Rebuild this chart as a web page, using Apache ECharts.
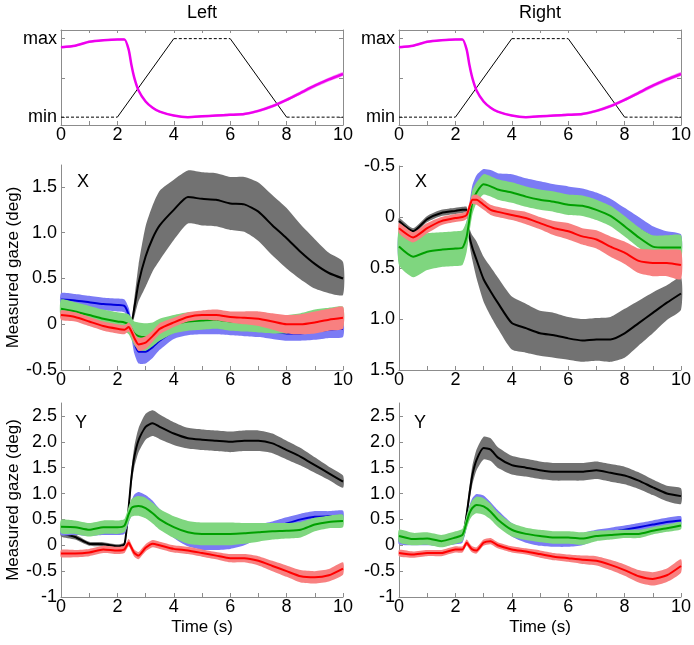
<!DOCTYPE html>
<html><head><meta charset="utf-8">
<script src="https://cdn.jsdelivr.net/npm/echarts@6/dist/echarts.min.js"></script>
<style>html,body{margin:0;padding:0;background:#fff}#c{width:694px;height:645px}</style>
</head><body><div id="c"></div>
<script>
// time samples (s)
const T = [0,0.5,1,1.5,2,2.25,2.4,2.5,2.6,2.75,3,3.25,3.5,4,4.5,5,5.5,6,6.5,7,7.5,8,8.5,9,9.5,10];

// top panels: stimulus trapezoid and magenta response
const stimT = [0,2,4,6,8,10];
const stimV = [0,0,1,1,0,0];
const magMean = [0.89,0.91,0.96,0.98,0.99,0.99,0.86,0.66,0.5,0.34,0.2,0.12,0.07,0.02,0.0,0.01,0.02,0.03,0.04,0.08,0.14,0.22,0.31,0.4,0.48,0.55];
const magSd   = [0.012,0.012,0.012,0.012,0.012,0.012,0.012,0.012,0.012,0.012,0.012,0.012,0.012,0.012,0.012,0.014,0.015,0.016,0.017,0.018,0.02,0.021,0.022,0.024,0.025,0.026];

// Left, X
const lxBlack   = [0.12,0.1,0.08,0.07,0.06,0.06,0.05,0.03,0.18,0.45,0.74,0.94,1.08,1.25,1.39,1.37,1.36,1.32,1.31,1.23,1.08,0.94,0.79,0.66,0.56,0.5];
const lxBlackSd = [0.05,0.05,0.05,0.05,0.05,0.05,0.05,0.03,0.1,0.2,0.33,0.36,0.38,0.33,0.29,0.29,0.29,0.29,0.3,0.32,0.33,0.33,0.3,0.27,0.22,0.18];
const lxBlue    = [0.27,0.26,0.24,0.22,0.21,0.2,0.1,-0.05,-0.2,-0.3,-0.3,-0.25,-0.18,-0.08,-0.04,-0.03,-0.03,-0.04,-0.05,-0.06,-0.08,-0.1,-0.1,-0.08,-0.06,-0.05];
const lxBlueSd  = [0.07,0.07,0.07,0.07,0.07,0.07,0.08,0.1,0.12,0.13,0.13,0.12,0.1,0.08,0.08,0.08,0.08,0.08,0.08,0.08,0.08,0.08,0.08,0.09,0.09,0.09];
const lxGreen   = [0.17,0.14,0.1,0.06,0.03,0.02,0.0,-0.05,-0.1,-0.13,-0.14,-0.11,-0.06,0.0,0.03,0.04,0.05,0.03,0.02,0.01,0.0,0.0,0.02,0.05,0.07,0.08];
const lxGreenSd = [0.1,0.1,0.1,0.1,0.1,0.1,0.11,0.12,0.13,0.15,0.15,0.13,0.12,0.1,0.1,0.1,0.1,0.1,0.1,0.1,0.1,0.1,0.1,0.11,0.11,0.11];
const lxRed     = [0.1,0.08,0.03,-0.02,-0.05,-0.06,-0.03,-0.08,-0.15,-0.22,-0.2,-0.13,-0.05,0.02,0.08,0.1,0.1,0.08,0.07,0.06,0.03,0.0,0.0,0.02,0.05,0.07];
const lxRedSd   = [0.05,0.05,0.05,0.05,0.05,0.05,0.05,0.06,0.06,0.07,0.07,0.06,0.06,0.05,0.05,0.05,0.06,0.06,0.07,0.08,0.09,0.1,0.11,0.12,0.12,0.12];

// Right, X
const rxBlack   = [0.04,0.14,0.02,-0.04,-0.06,-0.07,-0.07,0.19,0.3,0.42,0.61,0.73,0.84,1.04,1.09,1.14,1.16,1.19,1.21,1.2,1.2,1.14,1.04,0.94,0.84,0.75];
const rxBlackSd = [0.03,0.03,0.03,0.03,0.03,0.03,0.03,0.08,0.12,0.18,0.22,0.24,0.25,0.26,0.24,0.22,0.22,0.21,0.21,0.21,0.22,0.24,0.22,0.2,0.17,0.16];
const rxBlue    = [0.29,0.39,0.34,0.32,0.31,0.3,0.17,-0.02,-0.2,-0.3,-0.36,-0.35,-0.32,-0.3,-0.26,-0.23,-0.2,-0.18,-0.16,-0.12,-0.06,0.03,0.12,0.2,0.24,0.27];
const rxBlueSd  = [0.15,0.15,0.15,0.15,0.15,0.15,0.13,0.12,0.11,0.11,0.11,0.11,0.11,0.12,0.12,0.12,0.12,0.12,0.12,0.12,0.12,0.12,0.12,0.11,0.1,0.1];
const rxGreen   = [0.29,0.39,0.34,0.32,0.31,0.3,0.19,0.02,-0.14,-0.24,-0.32,-0.3,-0.27,-0.24,-0.2,-0.17,-0.15,-0.12,-0.11,-0.07,-0.01,0.09,0.2,0.29,0.3,0.3];
const rxGreenSd = [0.18,0.2,0.18,0.17,0.17,0.17,0.15,0.13,0.12,0.1,0.1,0.1,0.1,0.1,0.1,0.1,0.1,0.1,0.1,0.1,0.1,0.1,0.1,0.11,0.12,0.12];
const rxRed     = [0.11,0.2,0.11,0.04,0.01,0.0,-0.02,-0.1,-0.17,-0.17,-0.12,-0.07,-0.05,-0.02,0.01,0.06,0.11,0.14,0.19,0.22,0.29,0.35,0.43,0.45,0.45,0.47];
const rxRedSd   = [0.05,0.05,0.05,0.04,0.04,0.04,0.04,0.04,0.04,0.05,0.05,0.05,0.05,0.05,0.06,0.06,0.07,0.08,0.08,0.09,0.1,0.11,0.12,0.13,0.13,0.14];

// Left, Y
const lyBlack   = [0.23,0.16,0.03,0.02,-0.02,0.02,0.74,1.32,1.71,2.03,2.29,2.36,2.29,2.16,2.07,2.04,2.02,2.0,2.02,2.02,1.97,1.84,1.71,1.55,1.39,1.23];
const lyBlackSd = [0.06,0.05,0.04,0.04,0.04,0.04,0.1,0.15,0.2,0.23,0.25,0.25,0.24,0.22,0.2,0.2,0.2,0.2,0.2,0.2,0.19,0.18,0.17,0.15,0.13,0.12];
const lyBlue    = [0.3,0.3,0.28,0.3,0.3,0.32,0.55,0.72,0.82,0.86,0.8,0.7,0.55,0.3,0.15,0.08,0.08,0.1,0.16,0.26,0.33,0.42,0.5,0.55,0.56,0.57];
const lyBlueSd  = [0.1,0.1,0.1,0.1,0.1,0.1,0.12,0.14,0.16,0.17,0.17,0.16,0.15,0.16,0.17,0.17,0.17,0.17,0.16,0.14,0.13,0.12,0.11,0.11,0.1,0.1];
const lyGreen   = [0.36,0.35,0.3,0.35,0.35,0.38,0.6,0.72,0.75,0.76,0.72,0.62,0.5,0.35,0.25,0.22,0.22,0.22,0.23,0.25,0.27,0.28,0.3,0.4,0.45,0.47];
const lyGreenSd = [0.13,0.13,0.13,0.13,0.13,0.13,0.15,0.17,0.18,0.19,0.2,0.2,0.2,0.21,0.22,0.22,0.22,0.22,0.2,0.18,0.16,0.15,0.15,0.13,0.12,0.12];
const lyRed     = [-0.16,-0.16,-0.14,-0.08,-0.1,-0.08,0.05,-0.05,-0.15,-0.2,-0.05,0.03,0.0,-0.07,-0.1,-0.15,-0.2,-0.25,-0.25,-0.3,-0.4,-0.5,-0.6,-0.62,-0.58,-0.45];
const lyRedSd   = [0.07,0.07,0.07,0.07,0.07,0.07,0.07,0.07,0.07,0.07,0.07,0.07,0.07,0.07,0.07,0.07,0.07,0.08,0.08,0.09,0.1,0.11,0.12,0.12,0.12,0.12];

// Right, Y
const ryBlack   = [0.12,0.1,0.1,0.08,0.12,0.15,0.6,1.0,1.35,1.65,1.88,1.85,1.7,1.55,1.5,1.45,1.42,1.42,1.42,1.45,1.4,1.35,1.25,1.12,1.0,0.95];
const ryBlackSd = [0.05,0.05,0.05,0.05,0.05,0.05,0.1,0.14,0.18,0.2,0.22,0.22,0.2,0.18,0.17,0.17,0.17,0.17,0.17,0.17,0.17,0.17,0.16,0.15,0.15,0.15];
const ryBlue    = [0.12,0.1,0.1,0.08,0.12,0.15,0.45,0.65,0.78,0.85,0.82,0.7,0.55,0.3,0.18,0.12,0.1,0.1,0.12,0.2,0.25,0.3,0.35,0.4,0.45,0.48];
const ryBlueSd  = [0.1,0.1,0.1,0.1,0.1,0.1,0.11,0.12,0.13,0.14,0.14,0.13,0.13,0.13,0.13,0.13,0.13,0.13,0.12,0.1,0.09,0.08,0.08,0.08,0.08,0.08];
const ryGreen   = [0.18,0.12,0.13,0.08,0.15,0.2,0.45,0.62,0.72,0.78,0.75,0.65,0.5,0.3,0.22,0.18,0.15,0.15,0.13,0.18,0.2,0.22,0.22,0.28,0.33,0.38];
const ryGreenSd = [0.12,0.12,0.12,0.12,0.12,0.12,0.13,0.14,0.15,0.16,0.16,0.15,0.14,0.13,0.12,0.12,0.12,0.12,0.12,0.1,0.09,0.08,0.08,0.07,0.07,0.07];
const ryRed     = [-0.15,-0.18,-0.15,-0.15,-0.08,-0.08,0.05,-0.02,-0.08,-0.1,0.05,0.08,0.0,-0.08,-0.12,-0.17,-0.22,-0.25,-0.28,-0.3,-0.38,-0.48,-0.6,-0.65,-0.58,-0.4];
const ryRedSd   = [0.06,0.06,0.06,0.06,0.06,0.06,0.06,0.06,0.06,0.06,0.06,0.06,0.06,0.06,0.06,0.07,0.07,0.07,0.08,0.09,0.1,0.11,0.12,0.13,0.13,0.13];

// tick labels
const topYTicks = [0,0.5,1], topYLabelVals = [0,1], topYLabels = ['min','max'];
const lxTickVals = [-0.5,0,0.5,1,1.5], lxTickLabels = ['-0.5','0','0.5','1.0','1.5'];
const rxTickVals = [-0.5,0,0.5,1,1.5], rxTickLabels = ['-0.5','0','0.5','1.0','1.5'];
const yTickVals = [-1,-0.5,0,0.5,1,1.5,2,2.5], yTickLabels = ['-1','-0.5','0','0.5','1.0','1.5','2.0','2.5'];

const FONT = '"Liberation Sans", Arial, sans-serif';
const AX = '#8c8c8c';
const C = {
  black:'#000000', gray:'#727272',
  blue:'#0000dd', blueBand:'#7b7bf5',
  green:'#00a000', greenBand:'#7fd67f',
  red:'#ff0000', redBand:'#f88080',
  mag:'#ee00ee', magBand:'#f6a0f6'
};

const grids = [
  {left:61, top:30, width:282, height:95},
  {left:399, top:30, width:283, height:95},
  {left:61, top:165, width:282, height:205},
  {left:399, top:166, width:283, height:204},
  {left:61, top:403, width:282, height:194},
  {left:399, top:403, width:283, height:194}
];

function labelMap(vals, labs) { return v => { const i = vals.findIndex(x => Math.abs(x - v) < 1e-9); return i >= 0 ? labs[i] : ''; }; }

const xAxes = [], yAxes = [];
for (let g = 0; g < 6; g++) {
  xAxes.push({
    type:'value', gridIndex:g, min:0, max:10, interval:1,
    axisLine:{show:true, onZero:false, lineStyle:{color:AX}},
    axisTick:{show:true, inside:true, length:4, lineStyle:{color:AX}},
    splitLine:{show:false},
    axisLabel:{color:'#000', fontSize:18, fontFamily:FONT, margin: g < 2 ? 1 : 1,
      formatter: v => (v % 2 === 0 ? String(v) : '')},
    name: g >= 4 ? 'Time (s)' : '', nameLocation:'middle', nameGap:22,
    nameTextStyle:{color:'#000', fontSize:17, fontFamily:FONT}
  });
}
// top box edges for top panels
for (let g = 0; g < 2; g++) {
  xAxes.push({type:'value', gridIndex:g, position:'top', min:0, max:10, interval:1,
    axisLine:{show:true, onZero:false, lineStyle:{color:AX}},
    axisTick:{show:true, inside:true, length:3, lineStyle:{color:AX}},
    axisLabel:{show:false}, splitLine:{show:false}});
}
const yCfg = [
  {min:-0.1, max:1.11, ticks:topYTicks, labVals:topYLabelVals, labs:topYLabels, inverse:false},
  {min:-0.1, max:1.11, ticks:topYTicks, labVals:topYLabelVals, labs:topYLabels, inverse:false},
  {min:-0.5, max:1.74, ticks:lxTickVals, labVals:lxTickVals, labs:lxTickLabels, inverse:false},
  {min:-0.5, max:1.5, ticks:rxTickVals, labVals:rxTickVals, labs:rxTickLabels, inverse:true},
  {min:-1, max:2.75, ticks:yTickVals, labVals:yTickVals, labs:yTickLabels, inverse:false},
  {min:-1, max:2.75, ticks:yTickVals, labVals:yTickVals, labs:yTickLabels, inverse:false}
];
yCfg.forEach((c, g) => {
  yAxes.push({
    type:'value', gridIndex:g, min:c.min, max:c.max, inverse:c.inverse,
    axisLine:{show:true, onZero:false, lineStyle:{color:AX}},
    axisTick:{show:true, inside:true, length:4, customValues:c.ticks, lineStyle:{color:AX}},
    splitLine:{show:false},
    axisLabel:{color:'#000', fontSize:18, fontFamily:FONT, margin:4, customValues:c.labVals,
      formatter: labelMap(c.labVals, c.labs)},
    name: (g === 2 || g === 4) ? 'Measured gaze (deg)' : '', nameLocation:'middle', nameGap:39,
    nameTextStyle:{color:'#000', fontSize:17, fontFamily:FONT}
  });
});
for (let g = 0; g < 2; g++) {
  yAxes.push({type:'value', gridIndex:g, position:'right', min:-0.1, max:1.11,
    axisLine:{show:true, onZero:false, lineStyle:{color:AX}},
    axisTick:{show:true, inside:true, length:4, customValues:topYTicks, lineStyle:{color:AX}},
    axisLabel:{show:false}, splitLine:{show:false}});
}

let zc = 1;
function band(g, mean, sd, color) {
  return {type:'custom', xAxisIndex:g, yAxisIndex:g, coordinateSystem:'cartesian2d', silent:true, z: zc++,
    data:[[T[0], mean[0]]],
    renderItem: (p, api) => {
      const pts = [];
      for (let k = 0; k < T.length; k++) pts.push(api.coord([T[k], mean[k] + sd[k]]));
      for (let k = T.length - 1; k >= 0; k--) pts.push(api.coord([T[k], mean[k] - sd[k]]));
      return {type:'polygon', shape:{points:pts, smooth:0.2}, style:{fill:color}};
    }};
}
function line(g, mean, color, w) {
  return {type:'line', xAxisIndex:g, yAxisIndex:g, data:T.map((t, k) => [t, mean[k]]),
    symbol:'none', silent:true, smooth:0.2, z: zc++, lineStyle:{color:color, width:w}};
}

const series = [];
// top panels
for (let g = 0; g < 2; g++) {
  for (let i = 0; i < stimT.length - 1; i++) {
    const flat = stimV[i] === stimV[i + 1];
    series.push({type:'line', xAxisIndex:g, yAxisIndex:g, symbol:'none', silent:true, z: zc++,
      data:[[stimT[i], stimV[i]], [stimT[i + 1], stimV[i + 1]]],
      lineStyle:{color:'#000', width:1, type: flat ? [3, 2] : 'solid'}});
  }
  series.push(band(g, magMean, magSd, C.magBand));
  series.push(line(g, magMean, C.mag, 2.5));
}
const panels = [
  [2, lxBlack, lxBlackSd, lxBlue, lxBlueSd, lxGreen, lxGreenSd, lxRed, lxRedSd],
  [3, rxBlack, rxBlackSd, rxBlue, rxBlueSd, rxGreen, rxGreenSd, rxRed, rxRedSd],
  [4, lyBlack, lyBlackSd, lyBlue, lyBlueSd, lyGreen, lyGreenSd, lyRed, lyRedSd],
  [5, ryBlack, ryBlackSd, ryBlue, ryBlueSd, ryGreen, ryGreenSd, ryRed, ryRedSd]
];
panels.forEach(p => {
  const g = p[0];
  series.push(band(g, p[1], p[2], C.gray)); series.push(line(g, p[1], C.black, 2));
  series.push(band(g, p[3], p[4], C.blueBand)); series.push(line(g, p[3], C.blue, 2));
  series.push(band(g, p[5], p[6], C.greenBand)); series.push(line(g, p[5], C.green, 2));
  series.push(band(g, p[7], p[8], C.redBand)); series.push(line(g, p[7], C.red, 2));
});

const txt = (s, x, y, align) => ({type:'text', x:x, y:y, silent:true,
  style:{text:s, fill:'#000', font:'18px ' + FONT, align:align, verticalAlign:'middle'}});

const chart = echarts.init(document.getElementById('c'), null, {renderer:'canvas'});
chart.setOption({
  animation:false,
  backgroundColor:'#fff',
  grid:grids,
  xAxis:xAxes,
  yAxis:yAxes,
  series:series,
  graphic:[
    txt('Left', 202, 13, 'center'),
    txt('Right', 540, 13, 'center'),
    txt('X', 77, 182, 'left'),
    txt('X', 415, 182, 'left'),
    txt('Y', 75, 423, 'left'),
    txt('Y', 414, 423, 'left')
  ]
});
</script></body></html>
